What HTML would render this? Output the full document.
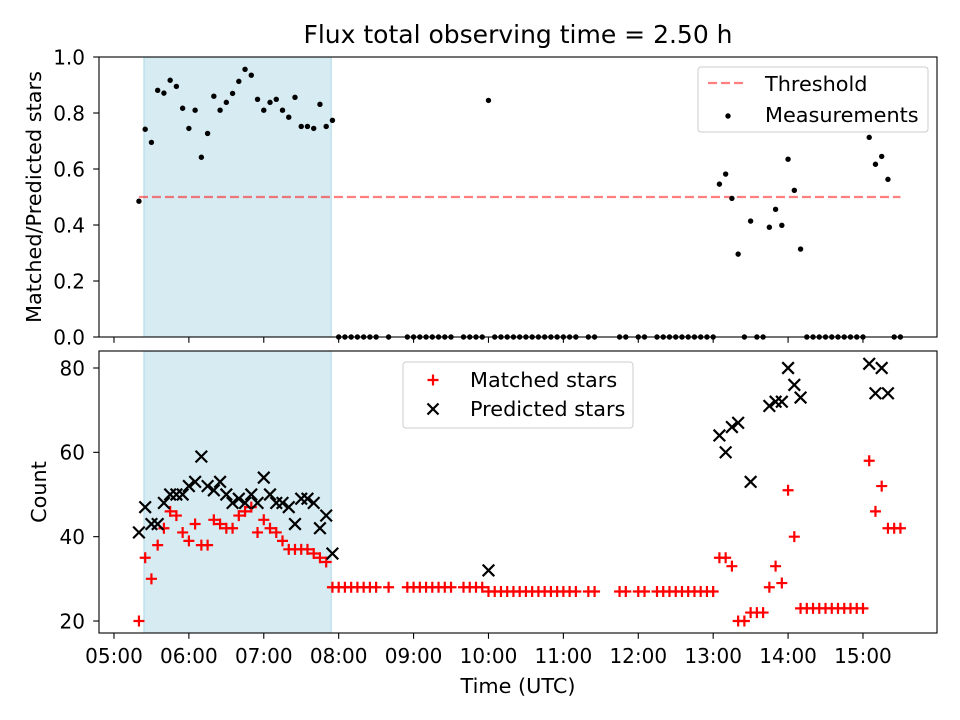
<!DOCTYPE html>
<html><head><meta charset="utf-8"><style>
html,body{margin:0;padding:0;background:#fff;}
svg{display:block;font-family:"DejaVu Sans","Liberation Sans",sans-serif;}
</style></head><body>
<svg id="chart" width="960" height="720" viewBox="0 0 960 720" xmlns="http://www.w3.org/2000/svg">
<rect width="960" height="720" fill="#fff"/>
<text x="518" y="43" font-size="25" text-anchor="middle">Flux total observing time = 2.50 h</text>
<g id="topPanel"></g><g id="botPanel"></g>
<text x="518" y="693" font-size="20.8" text-anchor="middle">Time (UTC)</text>
<text transform="translate(41,197) rotate(-90)" font-size="20.8" text-anchor="middle">Matched/Predicted stars</text>
<text transform="translate(46,492) rotate(-90)" font-size="20.8" text-anchor="middle">Count</text>
</svg>
<script>
// minutes after 05:00 UTC
const times=[20,25,30,35,40,45,50,55,60,65,70,75,80,85,90,95,100,105,110,115,120,125,130,135,140,145,150,155,160,165,170,175,
180,185,190,195,200,205,210,220,235,240,245,250,255,260,265,270,280,285,290,295,
300,305,310,315,320,325,330,335,340,345,350,355,360,365,370,380,385,405,410,420,425,
435,440,445,450,455,460,465,470,475,480,
485,490,495,500,505,510,515,520,525,530,535,540,545,550,555,560,565,570,575,580,585,590,595,600,605,610,615,620,625,630];
const ratio=[.485,.742,.695,.881,.871,.917,.895,.817,.745,.81,.642,.727,.86,.81,.838,.87,.913,.956,.935,.849,.81,.838,.849,.81,.785,.856,.752,.752,.745,.831,.752,.774,
0,0,0,0,0,0,0,0,0,0,0,0,0,0,0,0,0,0,0,0,
.845,0,0,0,0,0,0,0,0,0,0,0,0,0,0,0,0,0,0,0,0,
0,0,0,0,0,0,0,0,0,0,
.546,.582,.495,.296,0,.414,0,0,.392,.456,.399,.635,.524,.314,0,0,0,0,0,0,0,0,0,0,.713,.617,.645,.563,0,0];
const matched=[20,35,30,38,42,46,45,41,39,43,38,38,44,43,42,42,45,46,47,41,44,42,41,39,37,37,37,37,36,35,34,28,
28,28,28,28,28,28,28,28,28,28,28,28,28,28,28,28,28,28,28,28,
27,27,27,27,27,27,27,27,27,27,27,27,27,27,27,27,27,27,27,27,27,
27,27,27,27,27,27,27,27,27,27,
35,35,33,20,20,22,22,22,28,33,29,51,40,23,23,23,23,23,23,23,23,23,23,23,58,46,52,42,42,42];
const predicted=[41,47,43,43,48,50,50,50,52,53,59,52,51,53,50,48,49,48,50,48,54,50,48,48,47,43,49,49,48,42,45,36,
null,null,null,null,null,null,null,null,null,null,null,null,null,null,null,null,null,null,null,null,
32,null,null,null,null,null,null,null,null,null,null,null,null,null,null,null,null,null,null,null,null,
null,null,null,null,null,null,null,null,null,null,
64,60,66,67,null,53,null,null,71,72,72,80,76,73,null,null,null,null,null,null,null,null,null,null,81,74,80,74,null,null];
const xTicks=[0,60,120,180,240,300,360,420,480,540,600];
const xTickLabels=["05:00","06:00","07:00","08:00","09:00","10:00","11:00","12:00","13:00","14:00","15:00"];
const topYTicks=[0,0.2,0.4,0.6,0.8,1.0];
const botYTicks=[20,40,60,80];
const threshold=0.5, shadeStart=24, shadeEnd=174;

const NS="http://www.w3.org/2000/svg";
const L=99,R=937,FS=20.8,TFS=20;
const X=m=>L+(m+12)/(659.3+12)*(R-L);
const YT=v=>337-v*280;
const YB=v=>621-(v-20)*253/60;
function mk(p,t,a){const e=document.createElementNS(NS,t);for(const k in a)e.setAttribute(k,a[k]);p.appendChild(e);return e;}
const gTop=document.getElementById('topPanel'),gBot=document.getElementById('botPanel');

function frame(g,y0,y1,nm){
  const s=mk(g,'rect',{x:X(shadeStart),y:y0,width:X(shadeEnd)-X(shadeStart),height:y1-y0,fill:'#add8e6','fill-opacity':.5,stroke:'#add8e6','stroke-width':1});
  
  
}
frame(gTop,57,337,'top');frame(gBot,351,633,'bottom');

const th=mk(gTop,'line',{x1:X(times[0]),x2:X(times[times.length-1]),y1:YT(threshold),y2:YT(threshold),stroke:'#ff0000','stroke-opacity':.5,'stroke-width':2.2,'stroke-dasharray':'9,4'});



times.forEach((t,i)=>{
  const c=mk(gTop,'circle',{cx:X(t),cy:YT(ratio[i]),r:2.7,fill:'#000'});
  
  
  const x=X(t),y=YB(matched[i]);
  const p=mk(gBot,'path',{d:`M${x-5.5},${y}H${x+5.5}M${x},${y-5.5}V${y+5.5}`,stroke:'#ff0000','stroke-width':2.2,fill:'none'});
  
  
});
times.forEach((t,i)=>{
  if(predicted[i]==null)return;
  const x=X(t),y=YB(predicted[i]),d=5.8;
  const p=mk(gBot,'path',{d:`M${x-d},${y-d}L${x+d},${y+d}M${x-d},${y+d}L${x+d},${y-d}`,stroke:'#000','stroke-width':2.2,fill:'none'});
  
  
});

function axes(g,y0,y1,yt,Y,fmt,labels,nm){
  const f=mk(g,'rect',{x:L,y:y0,width:R-L,height:y1-y0,fill:'none',stroke:'#000','stroke-width':1.1});
  
  
  xTicks.forEach((m,i)=>{
    mk(g,'line',{x1:X(m),x2:X(m),y1:y1,y2:y1+5.8,stroke:'#000','stroke-width':1.1});
    if(labels){const t=mk(g,'text',{x:X(m),y:y1+30,'font-size':TFS,'text-anchor':'middle'});t.textContent=xTickLabels[i];
      
      }
  });
  yt.forEach(v=>{
    mk(g,'line',{x1:L-5.8,x2:L,y1:Y(v),y2:Y(v),stroke:'#000','stroke-width':1.1});
    const t=mk(g,'text',{x:L-14,y:Y(v)+7.3,'font-size':TFS,'text-anchor':'end'});t.textContent=fmt(v);
    
    
  });
}
axes(gTop,57,337,topYTicks,YT,v=>v.toFixed(1),false,'top');
axes(gBot,351,633,botYTicks,YB,v=>String(v),true,'bottom');

const lg1=mk(gTop,'g',{});


mk(lg1,'rect',{x:698,y:67,width:230,height:65,rx:3,fill:'#fff','fill-opacity':.8,stroke:'#ccc'});
mk(lg1,'line',{x1:708,x2:745,y1:83,y2:83,stroke:'#ff0000','stroke-opacity':.5,'stroke-width':2.2,'stroke-dasharray':'9,4'});
let tx=mk(lg1,'text',{x:765,y:91,'font-size':FS});tx.textContent='Threshold';
mk(lg1,'circle',{cx:728,cy:116,r:2.7,fill:'#000'});
tx=mk(lg1,'text',{x:765,y:122,'font-size':FS});tx.textContent='Measurements';

const lg2=mk(gBot,'g',{});


mk(lg2,'rect',{x:403,y:362,width:230,height:66,rx:3,fill:'#fff','fill-opacity':.8,stroke:'#ccc'});
mk(lg2,'path',{d:'M427.5,380H438.5M433,374.5V385.5',stroke:'#ff0000','stroke-width':2.2});
tx=mk(lg2,'text',{x:470,y:387,'font-size':FS});tx.textContent='Matched stars';
mk(lg2,'path',{d:'M427.5,403.5L438.5,414.5M427.5,414.5L438.5,403.5',stroke:'#000','stroke-width':2.2});
tx=mk(lg2,'text',{x:470,y:416,'font-size':FS});tx.textContent='Predicted stars';
</script>
</body></html>
